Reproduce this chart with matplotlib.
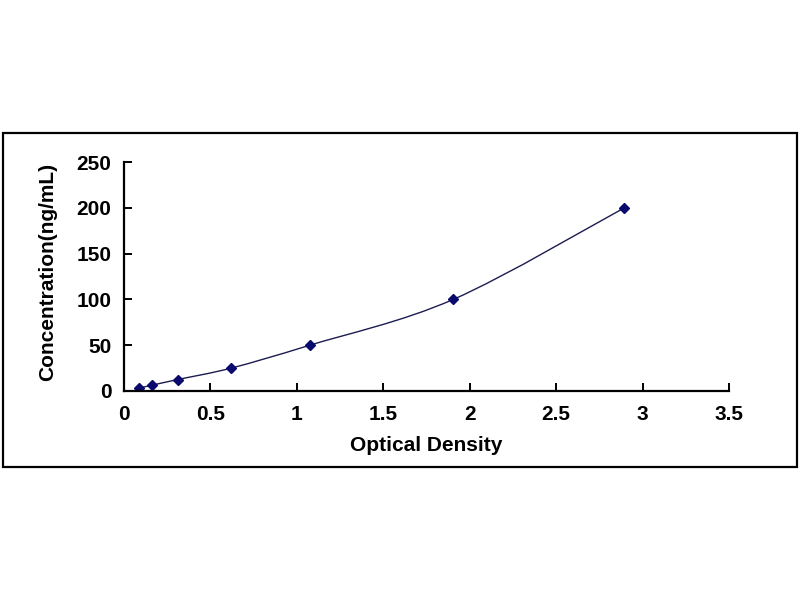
import numpy as np
import matplotlib.pyplot as plt
from matplotlib.path import Path
from matplotlib.patches import PathPatch, Rectangle

plt.rcParams['font.family'] = ['Liberation Sans', 'DejaVu Sans']
plt.rcParams['font.weight'] = 'bold'

# standard curve values
od = [0.085, 0.16, 0.31, 0.62, 1.075, 1.905, 2.895]
conc = [3.125, 6.25, 12.5, 25, 50, 100, 200]

xticks = [0, 0.5, 1, 1.5, 2, 2.5, 3, 3.5]
xtick_labels = ['0', '0.5', '1', '1.5', '2', '2.5', '3', '3.5']
yticks = [0, 50, 100, 150, 200, 250]

fig = plt.figure(figsize=(8, 6), dpi=100)
fig.patch.set_facecolor('white')

# outer frame around the chart area
fig.patches.append(Rectangle((3 / 800, 1 - 467 / 600), 794 / 800, 334 / 600,
                             transform=fig.transFigure, fill=False,
                             edgecolor='black', linewidth=1.6))

ax = fig.add_axes([124 / 800, 1 - 391 / 600, 605 / 800, 229 / 600])

# smoothed line (Excel style bezier through the points)
x = np.array(od)
y = np.array(conc)
verts = [(x[0], y[0])]
codes = [Path.MOVETO]
n = len(x)
for i in range(n - 1):
    p0 = (x[max(i - 1, 0)], y[max(i - 1, 0)])
    p1 = (x[i], y[i])
    p2 = (x[i + 1], y[i + 1])
    p3 = (x[min(i + 2, n - 1)], y[min(i + 2, n - 1)])
    c1 = (p1[0] + (p2[0] - p0[0]) / 6, p1[1] + (p2[1] - p0[1]) / 6)
    c2 = (p2[0] - (p3[0] - p1[0]) / 6, p2[1] - (p3[1] - p1[1]) / 6)
    verts += [c1, c2, p2]
    codes += [Path.CURVE4] * 3
ax.add_patch(PathPatch(Path(verts, codes), fill=False, edgecolor='#1c1c50', linewidth=1.0))

ax.plot(od, conc, linestyle='none', marker='D', markersize=5,
        color='#0a0a6e', markeredgecolor='#0a0a6e')

ax.set_xlim(0, 3.5)
ax.set_ylim(0, 250)
ax.set_xticks(xticks)
ax.set_xticklabels(xtick_labels)
ax.set_yticks(yticks)

for s in ['top', 'right']:
    ax.spines[s].set_visible(False)
for s in ['left', 'bottom']:
    ax.spines[s].set_linewidth(1.6)
ax.tick_params(direction='in', length=6, width=1.4, labelsize=15, pad=9)
ax.tick_params(axis='x', pad=10)

ax.set_xlabel('Optical Density', fontsize=15, fontweight='bold', labelpad=9)
ax.set_ylabel('Concentration(ng/mL)', fontsize=15, fontweight='bold')
ax.yaxis.set_label_coords(-0.11, 0.52)

fig.savefig('out.png', dpi=100, facecolor='white')
